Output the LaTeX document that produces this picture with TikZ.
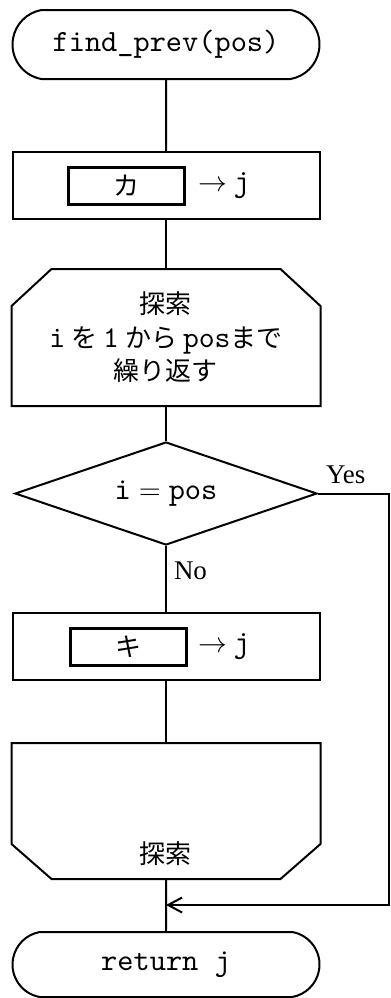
\documentclass[tikz,border=0pt]{standalone}
\usepackage{fontspec}
\setmainfont{Liberation Serif}
\setmonofont{lmmono10-regular.otf}[Scale=1.16]
\newfontfamily\jfont{Noto Sans CJK JP}
\usetikzlibrary{shapes.misc,shapes.geometric,arrows.meta,calc}
\begin{document}
\begin{tikzpicture}[line width=1pt,term/.style={draw,rounded rectangle,rounded rectangle arc length=160,minimum width=153.5pt,minimum height=34.5pt,inner sep=0pt,font=\ttfamily\fontsize{13.3pt}{16pt}\selectfont},proc/.style={draw,rectangle,minimum width=153.5pt,minimum height=33.5pt,inner sep=0pt},inbox/.style={draw,rectangle,line width=1.5pt,minimum width=58pt,minimum height=18.5pt,inner sep=0pt,font=\jfont\fontsize{13pt}{13pt}\selectfont},loopbox/.style={rectangle,minimum width=153.5pt,minimum height=67.5pt,align=center,inner sep=0pt,font=\jfont\fontsize{13pt}{16.75pt}\selectfont},decide/.style={draw,diamond,aspect=3,minimum width=151pt,minimum height=51.5pt,inner sep=0pt,font=\fontsize{13.3pt}{16pt}\selectfont},lbl/.style={inner sep=0pt,font=\fontsize{13.5pt}{16pt}\selectfont},node distance={76.5pt}]
\useasboundingbox (0,0) rectangle (195.5pt,-499pt);
\node[term] (start) at (83pt,-22.25pt) {find\_prev(pos)};
\node[proc] (setk) [below of=start,node distance=70.5pt] {};
\node[inbox,xshift=-20pt] (ka) at (setk) {カ};
\node[lbl] (kaj) at ([xshift=29pt]setk) {$\rightarrow$ \texttt{j}};
\node[loopbox] (lstart) [below of=setk,node distance=76pt] {探索\\\texttt{i}\hspace{3pt}を\hspace{3pt}\texttt{1}\hspace{3pt}から\hspace{3pt}\texttt{pos}まで\\繰り返す};
\draw (lstart.south west) -- ([yshift=-18.5pt]lstart.north west) -- ([xshift=20pt]lstart.north west) -- ([xshift=-20pt]lstart.north east) -- ([yshift=-18.5pt]lstart.north east) -- (lstart.south east) -- cycle;
\node[decide] (chk) [below of=lstart,node distance=78pt] {\texttt{i}${}={}$\texttt{pos}};
\node[proc] (setki) [below of=chk] {};
\node[inbox,xshift=-19pt] (ki) at (setki) {キ};
\node[lbl] (kij) at ([xshift=29pt]setki) {$\rightarrow$ \texttt{j}};
\node[loopbox,minimum height=67pt] (lend) [below of=setki,node distance=82.25pt] {};
\draw (lend.north west) -- (lend.north east) -- ([yshift=17.5pt]lend.south east) -- ([xshift=-20pt]lend.south east) -- ([xshift=20pt]lend.south west) -- ([yshift=17.5pt]lend.south west) -- cycle;
\node[loopbox,minimum width=0pt,minimum height=0pt] (lendt) at ([yshift=12.5pt]lend.south) {探索};
\node[term,minimum height=32.5pt] (ret) [below of=lend,node distance=76.75pt] {return j};
\draw (start) -- (setk);
\draw (setk) -- (lstart);
\draw (lstart) -- (chk);
\draw (chk) -- (setki);
\draw (setki) -- (lend);
\draw (lend) -- (ret);
\coordinate (rx) at (194.5pt,0);
\coordinate (yright) at (chk.east -| rx);
\coordinate (merge) at ($(lend.south)!0.5!(ret.north)$);
\draw[-{Straight Barb[length=7pt,width=7.5pt]}] (chk.east) -- (yright) |- (merge);
\node[lbl,anchor=base west] (yes) at ([xshift=3.5pt,yshift=5pt]chk.east) {Yes};
\node[lbl,anchor=base west] (no) at ([xshift=3.5pt,yshift=-16.5pt]chk.south) {No};
\end{tikzpicture}
\end{document}
